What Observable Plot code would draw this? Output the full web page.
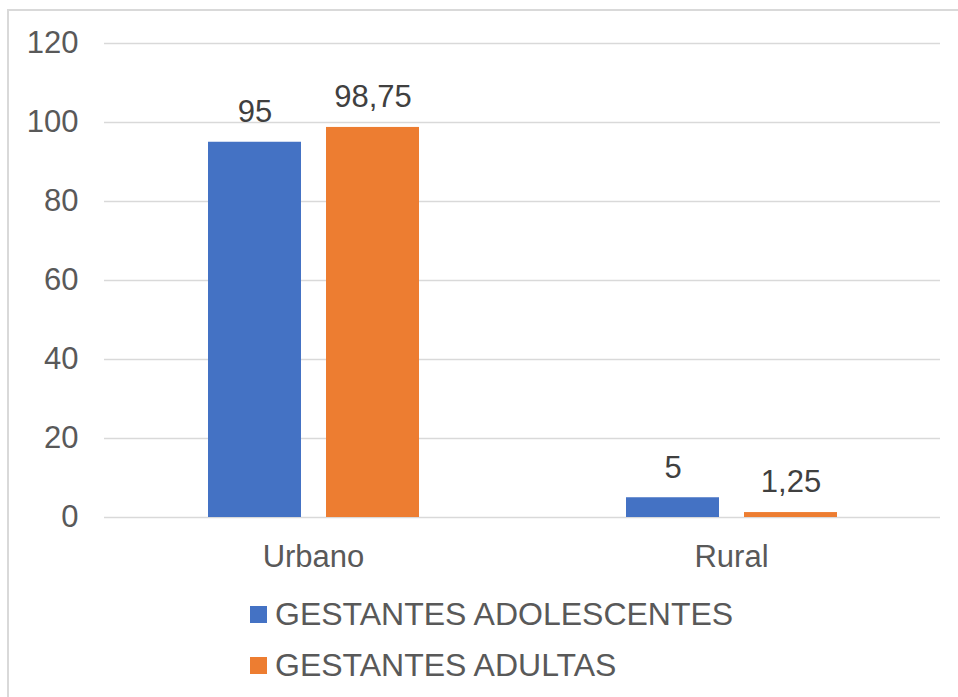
<!DOCTYPE html>
<html>
<head>
<meta charset="utf-8">
<script src="https://cdn.jsdelivr.net/npm/d3@7"></script>
<script src="https://cdn.jsdelivr.net/npm/@observablehq/plot@0.6"></script>
<style>
  html, body { margin: 0; padding: 0; background: #fff; overflow: hidden; width: 958px; height: 697px; }
  body { position: relative; font-family: "Liberation Sans", Arial, sans-serif; }
  #frame { position: absolute; left: 7px; top: 9px; width: 1000px; height: 1000px; border: 2px solid #d9d9d9; box-sizing: border-box; }
  #chart { position: absolute; left: 0; top: 0; }
  #legend { position: absolute; left: 250px; top: 589px; color: #595959; font-size: 32px; }
  .item { display: flex; align-items: center; height: 51px; line-height: 51px; white-space: nowrap; }
  .swatch { width: 17px; height: 17px; margin-right: 8px; }
</style>
</head>
<body>
<div id="frame"></div>
<div id="chart"></div>
<div id="legend"></div>
<script>
const categories = ["Urbano", "Rural"];
const series = ["GESTANTES ADOLESCENTES", "GESTANTES ADULTAS"];
const adolescentes = [95, 5];
const adultas = [98.75, 1.25];
const yTicks = [0, 20, 40, 60, 80, 100, 120];
const colors = ["#4472C4", "#ED7D31"];

const data = [];
categories.forEach((c, i) => {
  data.push({category: c, series: series[0], value: adolescentes[i]});
  data.push({category: c, series: series[1], value: adultas[i]});
});
const fmt = v => String(v).replace(".", ",");

const chart = Plot.plot({
  width: 958,
  height: 580,
  marginLeft: 103,
  marginRight: 18,
  marginTop: 43,
  marginBottom: 63,
  style: {fontFamily: "'Liberation Sans', Arial, sans-serif", background: "transparent", color: "#595959"},
  fx: {domain: categories, paddingInner: 0, paddingOuter: 0, label: null},
  x: {domain: series, paddingInner: 0.2101, paddingOuter: 0.8635, axis: null},
  y: {domain: [0, 120]},
  color: {domain: series, range: colors},
  marks: [
    Plot.gridY(yTicks, {stroke: "#d9d9d9", strokeOpacity: 1, strokeWidth: 1.5}),
    Plot.axisY(yTicks, {tickSize: 0, tickPadding: 26, fontSize: 31, fill: "#595959", label: null, tickFormat: d => String(d)}),
    Plot.barY(data, {fx: "category", x: "series", y: "value", fill: "series", dx: 1}),
    Plot.text(data, {fx: "category", x: "series", y: "value", text: d => fmt(d.value), dy: -30, dx: 1, fontSize: 31, fill: "#404040"}),
    Plot.axisFx({anchor: "bottom", tickSize: 0, tickPadding: 27, fontSize: 31, label: null, fill: "#595959"})
  ]
});
document.getElementById("chart").appendChild(chart);

const legend = document.getElementById("legend");
series.forEach((s, i) => {
  const row = document.createElement("div");
  row.className = "item";
  const sw = document.createElement("span");
  sw.className = "swatch";
  sw.style.background = colors[i];
  const tx = document.createElement("span");
  tx.textContent = s;
  row.appendChild(sw);
  row.appendChild(tx);
  legend.appendChild(row);
});
</script>
</body>
</html>
